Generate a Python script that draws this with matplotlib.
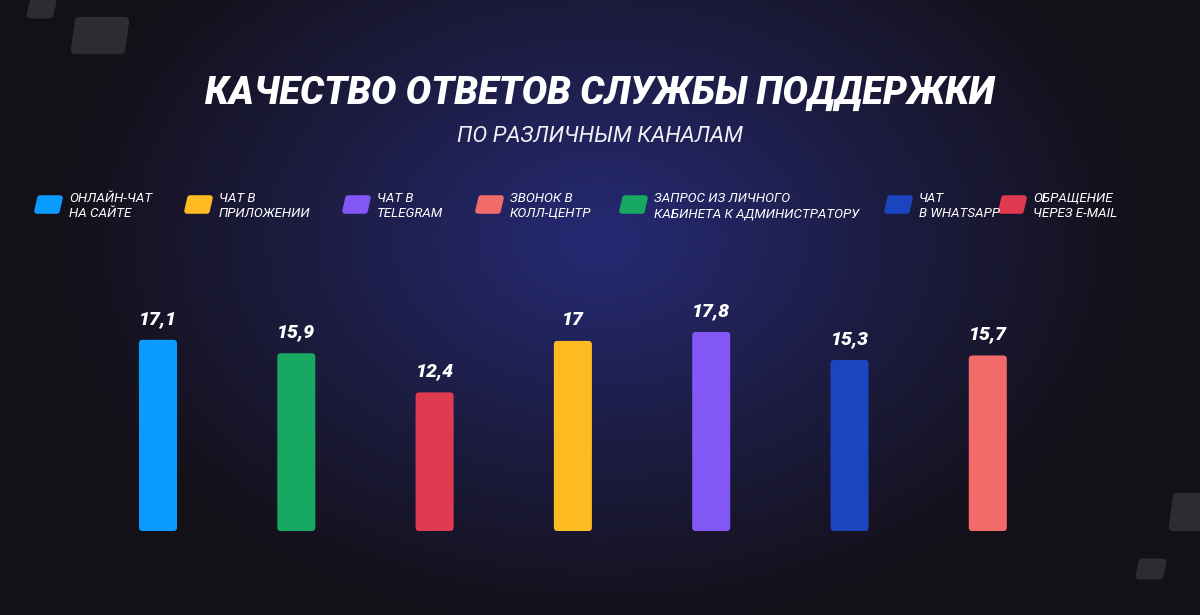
import numpy as np
import matplotlib
matplotlib.use("Agg")
import matplotlib.pyplot as plt
from matplotlib.patches import FancyBboxPatch, Polygon

# ---------------- data ----------------
title = "КАЧЕСТВО ОТВЕТОВ СЛУЖБЫ ПОДДЕРЖКИ"
subtitle = "ПО РАЗЛИЧНЫМ КАНАЛАМ"
legend_labels = ["ОНЛАЙН-ЧАТ\nНА САЙТЕ", "ЧАТ В\nПРИЛОЖЕНИИ", "ЧАТ В\nTELEGRAM",
                 "ЗВОНОК В\nКОЛЛ-ЦЕНТР", "ЗАПРОС ИЗ ЛИЧНОГО\nКАБИНЕТА К АДМИНИСТРАТОРУ",
                 "ЧАТ\nВ WHATSAPP", "ОБРАЩЕНИЕ\nЧЕРЕЗ E-MAIL"]
legend_colors = ["#0a9bff", "#ffbb22", "#8257f5", "#f26b6b", "#17a862", "#1a45bf", "#e03a50"]
bar_values = [17.1, 15.9, 12.4, 17.0, 17.8, 15.3, 15.7]
bar_labels = ["17,1", "15,9", "12,4", "17", "17,8", "15,3", "15,7"]
bar_colors = ["#0a9bff", "#17a862", "#e03a50", "#ffbb22", "#8257f5", "#1a45bf", "#f26b6b"]

W, H = 1200, 615
FONT = ["Roboto", "DejaVu Sans"]

fig = plt.figure(figsize=(W / 100, H / 100), dpi=100)

# ---------------- background ----------------
bg = fig.add_axes([0, 0, 1, 1], zorder=0)
bg.set_xlim(0, W)
bg.set_ylim(H, 0)
bg.axis("off")
yy, xx = np.mgrid[0:H, 0:W]
d = np.sqrt(((xx - 600) / 560.0) ** 2 + ((yy - 240) / 400.0) ** 2)
t = np.clip(1 - d, 0, 1) ** 1.05
c_out = np.array([0x14, 0x10, 0x17]) / 255
c_in = np.array([0x26, 0x2a, 0x74]) / 255
img = c_out[None, None, :] * (1 - t[..., None]) + c_in[None, None, :] * t[..., None]
bg.imshow(img, extent=[0, W, H, 0], aspect="auto", interpolation="bilinear")

def para(ax, x0, y0, w, h, skew, color, lw=4, z=1):
    pts = [(x0 + skew, y0), (x0 + w + skew, y0), (x0 + w, y0 + h), (x0, y0 + h)]
    ax.add_patch(Polygon(pts, closed=True, facecolor=color, edgecolor=color,
                         linewidth=lw, joinstyle="round", zorder=z))

deco = "#2e2c31"
para(bg, 30, 2, 20, 13, 3, deco, lw=5)
para(bg, 75, 21, 46, 29, 4, deco, lw=6)
para(bg, 1173, 497, 30, 30, 4, deco, lw=6)
para(bg, 1139, 562, 21, 14, 3, deco, lw=5)

# ---------------- titles ----------------
bg.text(600, 93, title, ha="center", va="center", color="white", fontsize=27.3,
        fontweight="black", fontstyle="italic", family=FONT)
bg.text(600, 137, subtitle, ha="center", va="center", color="#f0f0f6", fontsize=16,
        fontweight="normal", fontstyle="italic", family=FONT)

# ---------------- legend ----------------
text_x = [69, 219, 377, 510, 654, 919, 1033]
for lx, lab, col in zip(text_x, legend_labels, legend_colors):
    para(bg, lx - 32, 198, 20, 13, 3, col, lw=4, z=2)
    bg.text(lx, 206, lab, ha="left", va="center", color="white", fontsize=9.6,
            fontstyle="italic", family=FONT, linespacing=1.2)

# ---------------- bars ----------------
px_unit_x = 138.3
px_unit_y = 11.18
left = 158 - 0.5 * px_unit_x
width = 7 * px_unit_x
bottom = H - 531
height = 20 * px_unit_y
ax = fig.add_axes([left / W, bottom / H, width / W, height / H], zorder=1)
ax.set_xlim(-0.5, 6.5)
ax.set_ylim(0, 20)
ax.axis("off")
ax.patch.set_alpha(0)

x = np.arange(len(bar_values))
bars = ax.bar(x, bar_values, width=0.275, color=bar_colors)
aspect = px_unit_x / px_unit_y
for b, col in zip(bars, bar_colors):
    b.set_visible(False)
    r = 3.5 / px_unit_x
    ax.add_patch(FancyBboxPatch((b.get_x(), b.get_y()), b.get_width(), b.get_height(),
                                boxstyle=f"round,pad=0,rounding_size={r}",
                                mutation_aspect=aspect, facecolor=col, edgecolor="none"))
for xi, v, lab in zip(x, bar_values, bar_labels):
    ax.annotate(lab, (xi, v), xytext=(0, 15), textcoords="offset points",
                ha="center", va="center", color="white", fontsize=14,
                fontweight="black", fontstyle="italic", family=FONT, annotation_clip=False)

fig.savefig("out.png", dpi=100)
